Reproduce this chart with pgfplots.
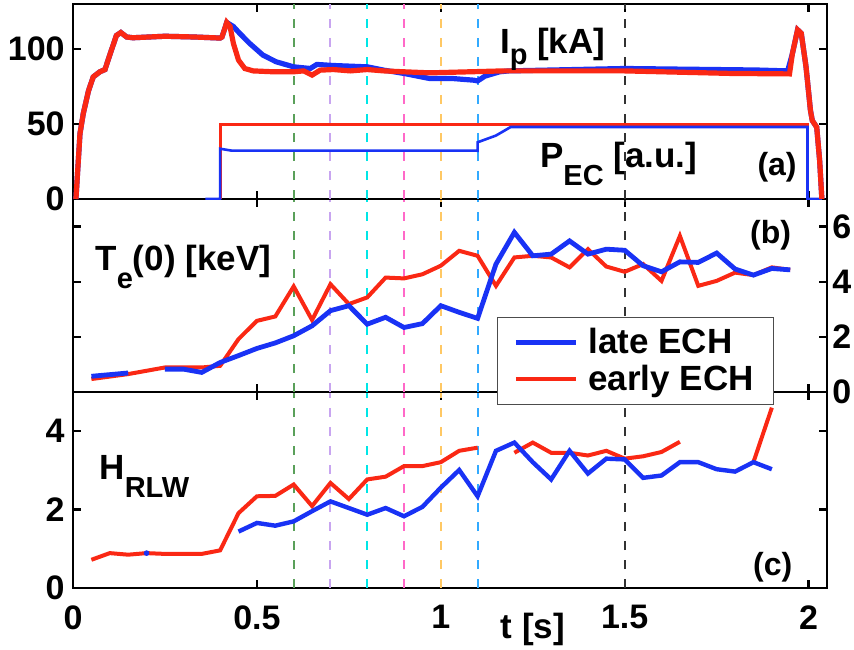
\documentclass[border=0pt]{standalone}
\usepackage{fontspec}
\setmainfont{Liberation Sans}
\usepackage{pgfplots}
\pgfplotsset{compat=1.18}

\definecolor{cblue}{RGB}{25,50,245}
\definecolor{cred}{RGB}{250,40,20}
\definecolor{vgreen}{RGB}{90,160,90}
\definecolor{vviolet}{RGB}{200,165,240}
\definecolor{vcyan}{RGB}{0,230,230}
\definecolor{vpink}{RGB}{255,105,200}
\definecolor{vorange}{RGB}{255,200,100}
\definecolor{vlblue}{RGB}{50,170,255}
\definecolor{vblack}{RGB}{50,50,50}

\newcommand{\lsub}[2]{\raisebox{-#1}{\fontsize{14.5}{14.5}\selectfont #2}}
\newcommand{\lbl}{\fontsize{17.5}{17.5}\bfseries\selectfont}

\pgfplotsset{
  myaxis/.style={
    scale only axis, width=377pt, xmin=0, xmax=2.05,
    axis line style={line width=1.2pt},
    every tick/.style={line width=1.2pt, black},
    major tick length=4pt,
    tick align=inside,
    xtick={0,0.5,1,1.5,2},
    xticklabels={},
    tick label style={font=\fontsize{17}{17}\bfseries\selectfont, inner sep=0pt},
    xticklabel style={yshift=-8.5pt},
    /pgf/number format/assume math mode=true,
    unbounded coords=jump,
    anchor=south west,
  },
  vl/.style={forget plot, line width=1pt, dash pattern=on 4.5pt off 5pt},
}

\begin{document}
\begin{tikzpicture}
\useasboundingbox (-36.5pt,-30.5pt) rectangle (390.5pt,294pt);

% ---------------- panel (c) ----------------
\begin{axis}[myaxis, at={(0,0)}, height=98pt, ymin=0, ymax=5, ytick={0,2,4},
  yticklabel style={xshift=-4pt},
  xticklabels={0,0.5,1,1.5,2},
  xlabel={t [s]}, xlabel style={at={(rel axis cs:0.61,0)}, anchor=north, inner sep=0pt, yshift=-12.5pt, font=\lbl}]
\addplot[vl, vgreen] coordinates {(0.6,0) (0.6,5)};
\addplot[vl, vviolet] coordinates {(0.7,0) (0.7,5)};
\addplot[vl, vcyan] coordinates {(0.8,0) (0.8,5)};
\addplot[vl, vpink] coordinates {(0.9,0) (0.9,5)};
\addplot[vl, vorange] coordinates {(1.0,0) (1.0,5)};
\addplot[vl, vlblue] coordinates {(1.1,0) (1.1,5)};
\addplot[vl, vblack] coordinates {(1.5,0) (1.5,5)};
\addplot[cred, line width=2pt] coordinates {
(0.05,0.72) (0.1,0.89) (0.15,0.85) (0.2,0.89) (0.25,0.87) (0.3,0.87) (0.35,0.87) (0.4,0.96)
(0.45,1.91) (0.5,2.34) (0.55,2.35) (0.6,2.64) (0.65,2.09) (0.7,2.68) (0.75,2.27) (0.8,2.77)
(0.85,2.84) (0.9,3.11) (0.95,3.11) (1.0,3.21) (1.05,3.50) (1.1,3.58) (1.15,nan)
(1.2,3.45) (1.25,3.71) (1.3,3.45) (1.35,3.45) (1.4,3.38) (1.45,3.50) (1.5,3.30) (1.55,3.36)
(1.6,3.47) (1.65,3.73) (1.7,nan) (1.85,3.21) (1.9,4.6)};
\addplot[cblue, only marks, mark=*, mark size=1.2pt] coordinates {(0.2,0.89)};
\addplot[cblue, line width=2.2pt] coordinates {
(0.45,1.44) (0.5,1.66) (0.55,1.59) (0.6,1.70) (0.65,1.96) (0.7,2.21) (0.75,2.04) (0.8,1.87)
(0.85,2.04) (0.9,1.83) (0.95,2.07) (1.0,2.56) (1.05,3.01) (1.1,2.34) (1.15,3.50) (1.2,3.71)
(1.25,3.21) (1.3,2.77) (1.35,3.50) (1.4,2.92) (1.45,3.30) (1.5,3.28) (1.55,2.81) (1.6,2.87)
(1.65,3.21) (1.7,3.21) (1.75,3.03) (1.8,2.97) (1.85,3.21) (1.9,3.03)};
\node[anchor=base west, font=\lbl, inner sep=0pt] at (axis cs:0.071,2.77) {H\lsub{9pt}{RLW}};
\node[anchor=base west, font=\fontsize{16}{16}\bfseries\selectfont, inner sep=0pt] at (axis cs:1.848,0.33) {(c)};
\end{axis}

% ---------------- panel (b) ----------------
\begin{axis}[myaxis, at={(0,98pt)}, height=96.5pt, ymin=0, ymax=7, ytick={0,2,4,6},
  yticklabel pos=right, ytick pos=both, yticklabel style={anchor=west, xshift=2.5pt},
  legend style={at={(0.5623,0.3886)}, anchor=north west, draw=black!70, line width=0.6pt,
    fill=white, font=\lbl, inner xsep=8pt, inner ysep=3.5pt, nodes={inner sep=2pt}, column sep=3pt},
  legend cell align=left,
  legend image code/.code={\draw[#1] (0pt,0pt) -- (30pt,0pt);}]
\addplot[vl, vgreen] coordinates {(0.6,0) (0.6,7)};
\addplot[vl, vviolet] coordinates {(0.7,0) (0.7,7)};
\addplot[vl, vcyan] coordinates {(0.8,0) (0.8,7)};
\addplot[vl, vpink] coordinates {(0.9,0) (0.9,7)};
\addplot[vl, vorange] coordinates {(1.0,0) (1.0,7)};
\addplot[vl, vlblue] coordinates {(1.1,0) (1.1,7)};
\addplot[vl, vblack] coordinates {(1.5,0) (1.5,7)};
\addplot[cred, line width=2pt, forget plot] coordinates {
(0.05,0.47) (0.1,0.56) (0.15,0.65) (0.2,0.77) (0.25,0.89) (0.3,0.89) (0.35,0.89) (0.4,0.95)
(0.45,1.92) (0.5,2.58) (0.55,2.74) (0.6,3.83) (0.65,2.61) (0.7,3.91) (0.75,3.19) (0.8,3.43)
(0.85,4.15) (0.9,4.12) (0.95,4.27) (1.0,4.58) (1.05,5.12) (1.1,4.94) (1.15,3.85) (1.2,4.88)
(1.25,4.94) (1.3,4.88) (1.35,4.52) (1.4,5.18) (1.45,4.55) (1.5,4.36) (1.55,4.64) (1.6,4.03)
(1.65,5.66) (1.7,3.85) (1.75,4.03) (1.8,4.33) (1.85,4.24) (1.9,4.52) (1.95,4.43)};
\addplot[cblue, line width=2.4pt] coordinates {
(0.05,0.57) (0.1,0.63) (0.15,0.69) (0.2,nan) (0.25,0.83) (0.3,0.83) (0.35,0.71) (0.4,1.07)
(0.45,1.32) (0.5,1.58) (0.55,1.78) (0.6,2.04) (0.65,2.40) (0.7,2.95) (0.75,3.13) (0.8,2.46)
(0.85,2.71) (0.9,2.34) (0.95,2.48) (1.0,3.13) (1.05,2.89) (1.1,2.67) (1.15,4.64) (1.2,5.79)
(1.25,4.94) (1.3,5.0) (1.35,5.48) (1.4,5.0) (1.45,5.18) (1.5,5.14) (1.55,4.58) (1.6,4.36)
(1.65,4.72) (1.7,4.70) (1.75,5.04) (1.8,4.46) (1.85,4.24) (1.9,4.48) (1.95,4.43)};
\addlegendentry{late ECH}
\addlegendimage{cred, line width=2pt}
\addlegendentry{early ECH}
\node[anchor=base west, font=\lbl, inner sep=0pt] at (axis cs:0.06,4.42) {T\lsub{9pt}{e}(0) [keV]};
\node[anchor=base west, font=\fontsize{16}{16}\bfseries\selectfont, inner sep=0pt] at (axis cs:1.84,5.4) {(b)};
\end{axis}

% ---------------- panel (a) ----------------
\begin{axis}[myaxis, at={(0,194.5pt)}, height=97.5pt, ymin=0, ymax=130, ytick={0,50,100},
  yticklabel style={xshift=-4pt}]
\addplot[vl, vgreen] coordinates {(0.6,0) (0.6,130)};
\addplot[vl, vviolet] coordinates {(0.7,0) (0.7,130)};
\addplot[vl, vcyan] coordinates {(0.8,0) (0.8,130)};
\addplot[vl, vpink] coordinates {(0.9,0) (0.9,130)};
\addplot[vl, vorange] coordinates {(1.0,0) (1.0,130)};
\addplot[vl, vlblue] coordinates {(1.1,0) (1.1,130)};
\addplot[vl, vblack] coordinates {(1.5,0) (1.5,130)};
% P_EC
\addplot[cred, line width=1.5pt] coordinates {(0.4,0) (0.4,49.5) (1.997,49.5) (1.997,0)};
\addplot[cblue, line width=1.3pt] coordinates {(0.36,0) (0.4,0) (0.4,33.5) (0.43,32.3) (1.1,32.2)
(1.1,37.8) (1.15,42.3) (1.19,48) (1.997,48) (1.997,0) (2.036,0)};
% Ip blue
\addplot[cblue, line width=2.6pt] coordinates {
(0.008,0) (0.019,43.6) (0.028,57) (0.042,72) (0.055,81.4) (0.073,84.8) (0.087,86.3) (0.1,96)
(0.118,109) (0.13,111) (0.146,108) (0.163,107.5) (0.25,108.5) (0.33,108) (0.4,107.3) (0.405,108)
(0.418,117.7) (0.436,115) (0.453,110.5) (0.48,103.8) (0.516,96) (0.552,91.5) (0.6,88.1)
(0.645,87) (0.663,89.7) (0.708,89) (0.8,88.1) (0.845,85.9) (0.9,83.7) (0.97,80.3) (1.033,80.3)
(1.09,79.2) (1.1,78.7) (1.12,81.9) (1.16,84.8) (1.185,85.4) (1.5,87) (1.857,86) (1.943,85.4)
(1.956,97) (1.97,112.8) (1.98,110.5) (1.993,88) (2.005,59) (2.01,52.3) (2.022,47.9) (2.03,25.5) (2.036,0)};
% Ip red
\addplot[cred, line width=2.6pt] coordinates {
(0.008,0) (0.019,43.6) (0.028,57) (0.042,72) (0.055,81.4) (0.073,84.8) (0.087,86.3) (0.1,96)
(0.118,109) (0.13,111) (0.146,108) (0.163,107.5) (0.25,108.5) (0.33,108) (0.4,107.3) (0.405,108)
(0.418,117.7) (0.427,115) (0.436,103.8) (0.45,92.6) (0.467,87) (0.49,85.4) (0.545,84.8)
(0.6,84.8) (0.627,85.4) (0.65,82.6) (0.672,85.9) (0.708,86.3) (0.754,85.4) (0.8,86.3)
(0.845,85.4) (0.9,84.8) (0.97,84.1) (1.17,85.4) (1.5,85.4) (1.79,83.7) (1.948,83.4)
(1.956,97) (1.97,112.8) (1.98,110.5) (1.993,88) (2.005,59) (2.01,52.3) (2.022,47.9) (2.03,25.5) (2.036,0)};
\node[anchor=base west, font=\lbl, inner sep=0pt] at (axis cs:1.16,97.3) {I\lsub{5.5pt}{p} [kA]};
\node[anchor=base west, font=\lbl, inner sep=0pt] at (axis cs:1.269,20.8) {P\lsub{9pt}{EC} [a.u.]};
\node[anchor=base west, font=\fontsize{16}{16}\bfseries\selectfont, inner sep=0pt] at (axis cs:1.86,15.4) {(a)};
\end{axis}
\end{tikzpicture}
\end{document}
